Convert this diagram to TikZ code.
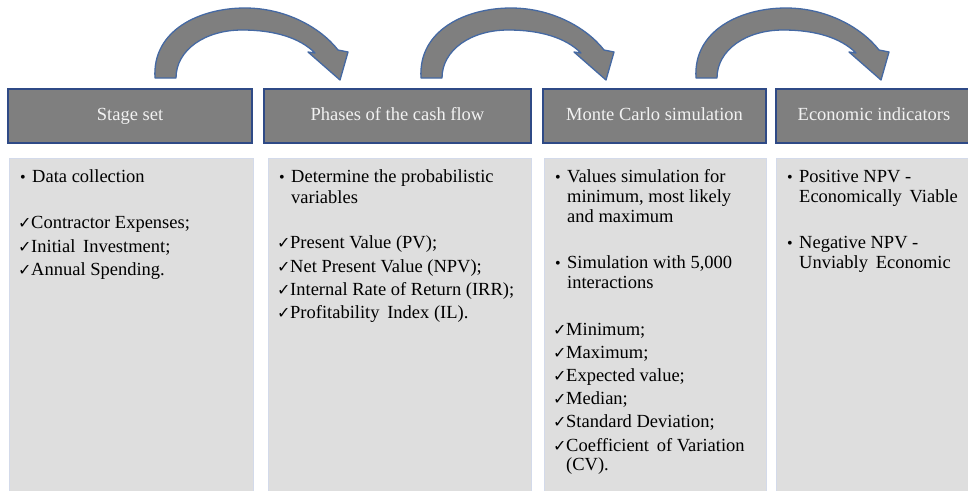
\documentclass[tikz,border=0pt]{standalone}
\usepackage{fontspec}
\setmainfont{Liberation Serif}
\newfontfamily\symfont{DejaVu Sans}
\definecolor{headfill}{HTML}{7F7F7F}
\definecolor{headdraw}{HTML}{2F4A86}
\definecolor{bodyfill}{HTML}{DEDEDE}
\definecolor{bodydraw}{HTML}{D3DAEA}
\definecolor{arrfill}{HTML}{7F7F7F}
\definecolor{arrdraw}{HTML}{4569A3}
\definecolor{headtext}{HTML}{F2F2F2}
\newcommand{\ck}{\makebox[13pt][l]{\symfont\fontsize{16}{16}\selectfont ✓}}
\newcommand{\bu}{\makebox[12pt][l]{\fontsize{16}{16}\selectfont •}}
\newcommand{\ind}{\hspace*{12pt}}
\begin{document}
\begin{tikzpicture}[x=1pt,y=-1pt,
  head/.style={draw=headdraw, line width=1.6pt, fill=headfill, text=headtext,
    font=\fontsize{18.5}{20}\selectfont, minimum height=54pt, inner sep=0pt,
    text height=13pt, text depth=4pt, anchor=center},
  body/.style={draw=bodydraw, line width=1pt, fill=bodyfill, minimum height=336pt, inner sep=0pt},
  txt/.style={anchor=base west, inner sep=0pt, font=\fontsize{18.5}{20}\selectfont, text=black},
  arr/.style={fill=arrfill, draw=arrdraw, line width=1.3pt, line join=round},
  curvarrow/.pic={
    \filldraw[arr] (155,78) .. controls (152,30) and (200,8) .. (245,8)
      .. controls (285,8) and (320,27) .. (338,50)
      -- (348,52) -- (340,80) -- (308,52) -- (315,53)
      .. controls (300,38) and (275,30) .. (242,30)
      .. controls (205,30) and (176,50) .. (176,78) -- cycle;
  }]
\useasboundingbox (0,0) rectangle (968,490);
\clip (0,0) rectangle (968,490);
\fill[white] (0,0) rectangle (968,490);

% arrows
\pic at (0,0) {curvarrow};
\pic at (266,0) {curvarrow};
\pic at (541,0) {curvarrow};

% header boxes
\node[head, minimum width=244pt] (h1) at (130,116) {Stage set};
\node[head, minimum width=267pt] (h2) at (397.5,116) {Phases of the cash flow};
\node[head, minimum width=223pt] (h3) at (654.5,116) {Monte Carlo simulation};
\node[head, minimum width=196pt] (h4) at (874,116) {Economic indicators};

% body boxes
\node[body, minimum width=244pt] (c1) at (131,326) {};
\node[body, minimum width=263pt] (c2) at (399.5,326) {};
\node[body, minimum width=222pt] (c3) at (655,326) {};
\node[body, minimum width=200pt] (c4) at (876,326) {};

% column 1
\node[txt] (a1) at (20,182) {\bu Data collection};
\node[txt] (a2) at (18,228) {\ck Contractor Expenses;};
\node[txt] (a3) at (18,252) {\ck Initial\, Investment;};
\node[txt] (a4) at (18,275) {\ck Annual Spending.};

% column 2
\node[txt] (b1) at (279,182) {\bu Determine the probabilistic};
\node[txt] (b2) at (279,203) {\ind variables};
\node[txt] (b3) at (277,248) {\ck Present Value (PV);};
\node[txt] (b4) at (277,272) {\ck Net Present Value (NPV);};
\node[txt] (b5) at (277,295) {\ck Internal Rate of Return (IRR);};
\node[txt] (b6) at (277,318) {\ck Profitability\, Index (IL).};

% column 3
\node[txt] (d1) at (555,182) {\bu Values simulation for};
\node[txt] (d2) at (555,202) {\ind minimum, most likely};
\node[txt] (d3) at (555,222) {\ind and maximum};
\node[txt] (d4) at (555,268) {\bu Simulation with 5,000};
\node[txt] (d5) at (555,288) {\ind interactions};
\node[txt] (d6) at (553,335) {\ck Minimum;};
\node[txt] (d7) at (553,358) {\ck Maximum;};
\node[txt] (d8) at (553,381) {\ck Expected value;};
\node[txt] (d9) at (553,404) {\ck Median;};
\node[txt] (d10) at (553,427) {\ck Standard Deviation;};
\node[txt] (d11) at (553,451) {\ck Coefficient\, of Variation};
\node[txt] (d12) at (553,470) {\makebox[13pt]{}(CV).};

% column 4
\node[txt] (e1) at (787,182) {\bu Positive NPV -};
\node[txt] (e2) at (787,202) {\ind Economically\, Viable};
\node[txt] (e3) at (787,248) {\bu Negative NPV -};
\node[txt] (e4) at (787,268) {\ind Unviably\, Economic};
\end{tikzpicture}
\end{document}
